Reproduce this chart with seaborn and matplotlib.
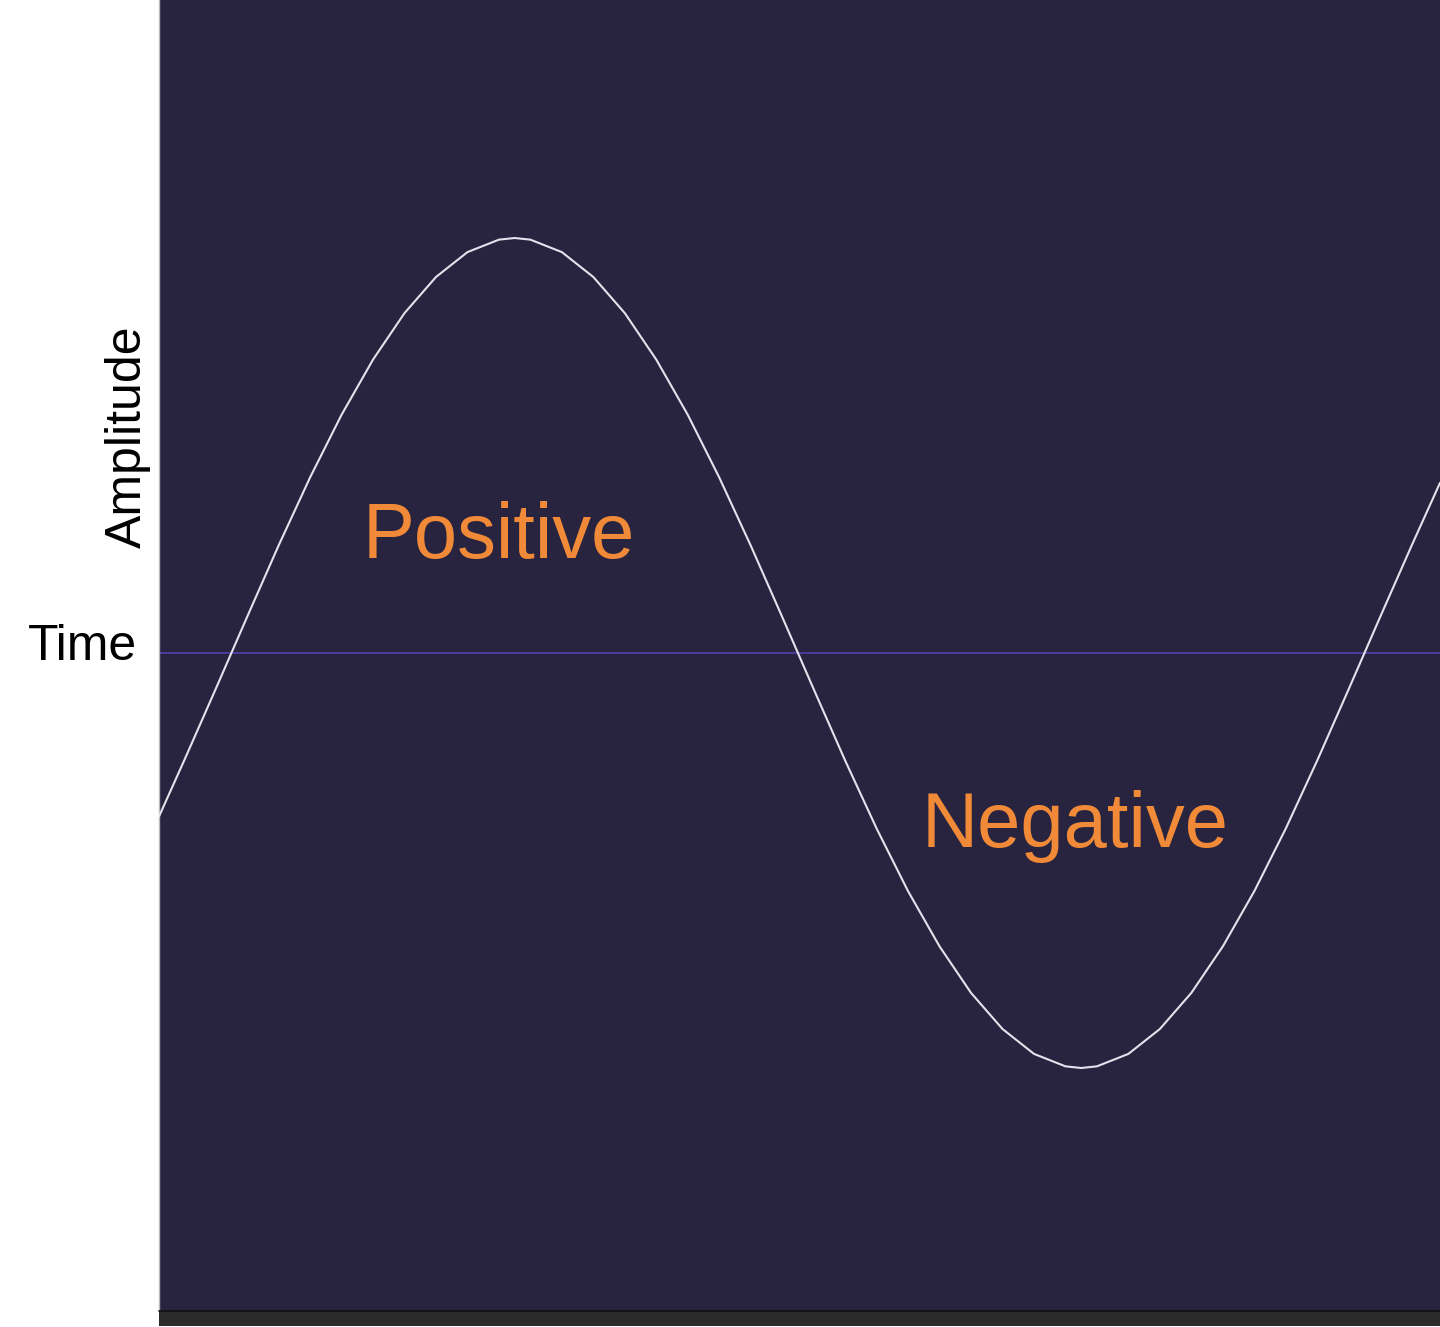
import numpy as np
import pandas as pd
import matplotlib
matplotlib.use("Agg")
import matplotlib.pyplot as plt
import seaborn as sns
from matplotlib.patches import Rectangle
from matplotlib.lines import Line2D

# ---- data ----
time = [-23, -15, -5, 0, 5, 15, 25, 35, 45, 55, 65, 75, 85, 90, 95, 105, 115,
        125, 135, 145, 155, 165, 175, 180, 185, 195, 205, 215, 225, 235, 245,
        255, 265, 270, 275, 285, 295, 305, 315, 325, 335, 345, 355, 360, 365,
        375, 384]
amplitude = [-0.394, -0.259, -0.087, 0.0, 0.087, 0.259, 0.423, 0.574, 0.707,
             0.819, 0.906, 0.966, 0.996, 1.0, 0.996, 0.966, 0.906, 0.819,
             0.707, 0.574, 0.423, 0.259, 0.087, 0.0, -0.087, -0.259, -0.423,
             -0.574, -0.707, -0.819, -0.906, -0.966, -0.996, -1.0, -0.996,
             -0.966, -0.906, -0.819, -0.707, -0.574, -0.423, -0.259, -0.087,
             0.0, 0.087, 0.259, 0.41]
region_labels = ["Positive", "Negative"]
region_x = [85, 268]
region_y = [0.229, -0.467]
axis_labels = ["Time", "Amplitude"]

BG = "#28233F"
WAVE = "#E4E2EC"
ZERO = "#4B3FA6"
ORANGE = "#F08A38"

sns.set_theme(style="white")
plt.rcParams['font.family'] = ['Liberation Sans', 'DejaVu Sans']

W, H = 1440, 1327
fig = plt.figure(figsize=(W / 100, H / 100), dpi=100)
fig.patch.set_facecolor("white")

ax_left = 159 / W
ax_bottom = (H - 1311) / H
ax = fig.add_axes([ax_left, ax_bottom, 1 - ax_left, 1 - ax_bottom])
ax.set_facecolor(BG)

df = pd.DataFrame({"time": time, "amplitude": amplitude})
ax.axhline(0, color=ZERO, lw=1.3, zorder=1)
sns.lineplot(data=df, x="time", y="amplitude", ax=ax, color=WAVE, lw=1.5,
             sort=False, zorder=3)

ax.set_xlim(-23, 384)
ax.set_ylim(-(1311 - 653) / 415, 653 / 415)
ax.set_xticks([])
ax.set_yticks([])
ax.set_xlabel("")
ax.set_ylabel("")
for s in ["top", "right", "bottom"]:
    ax.spines[s].set_visible(False)
ax.spines["left"].set_color("#B8B8C0")
ax.spines["left"].set_linewidth(1.0)

for lab, x, y in zip(region_labels, region_x, region_y):
    ax.text(x, y, lab, color=ORANGE, fontsize=56, ha="center", va="baseline",
            zorder=4)

# axis labels outside the plot
fig.text(137 / W, 1 - 660 / H, axis_labels[0], fontsize=36, color="black",
         ha="right", va="baseline")
fig.text(141 / W, 1 - 437 / H, axis_labels[1], fontsize=36, color="black",
         rotation=90, rotation_mode="anchor", ha="center", va="baseline")

# dark bottom band
fig.add_artist(Rectangle((ax_left, 1 / H), 1 - ax_left, 15 / H,
                         transform=fig.transFigure, facecolor="#2B2B2B",
                         edgecolor="none", zorder=5))
fig.add_artist(Line2D([ax_left, 1], [ax_bottom, ax_bottom],
                      transform=fig.transFigure, color="#111111", lw=1.2,
                      zorder=6))

fig.savefig("out.png", dpi=100, facecolor=fig.get_facecolor())
